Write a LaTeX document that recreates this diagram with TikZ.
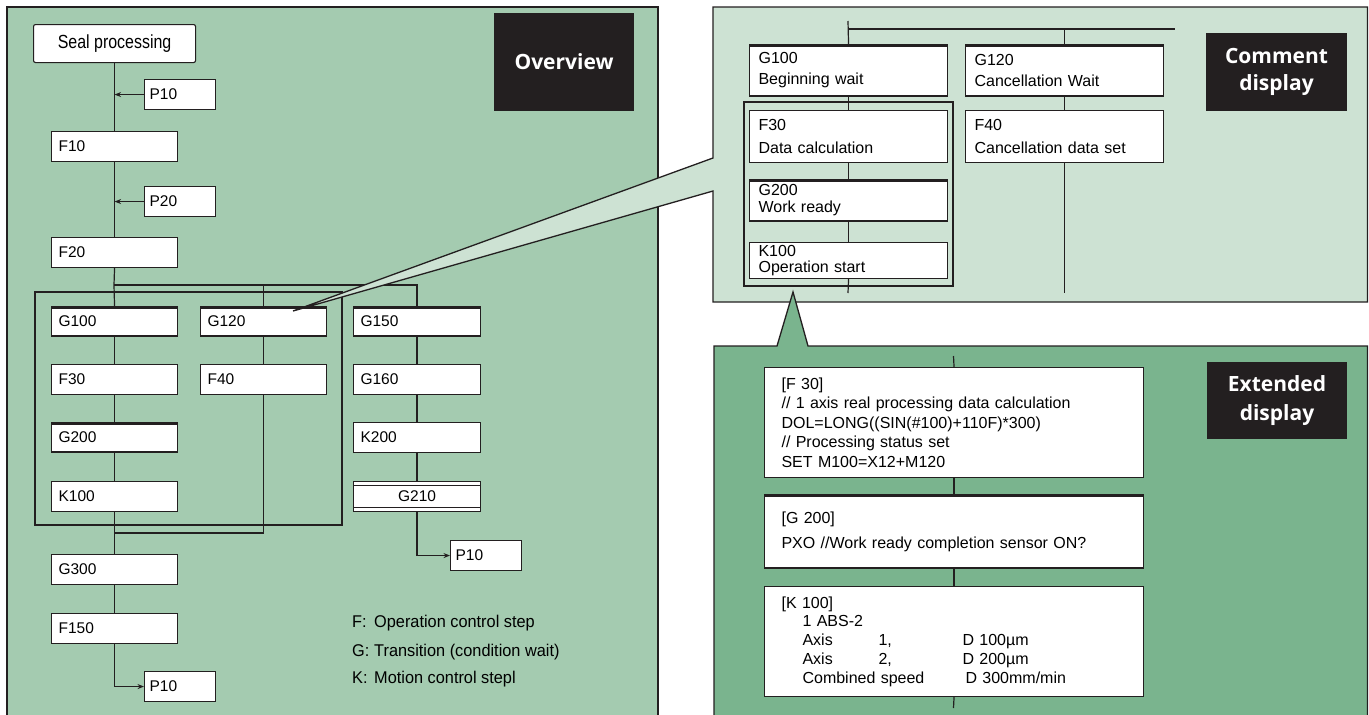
\documentclass[tikz,border=0pt]{standalone}
\usepackage{fontspec}
\setmainfont{Liberation Sans}
\newfontfamily\narrowfont[FakeStretch=0.84]{Liberation Sans}
\newfontfamily\legendfont[FakeStretch=0.96]{Liberation Sans}
\newfontfamily\tagfont{Open Sans}
\usetikzlibrary{arrows.meta}

\definecolor{ink}{RGB}{35,31,32}
\definecolor{overviewgreen}{RGB}{164,203,176}
\definecolor{commentgreen}{RGB}{205,226,211}
\definecolor{extendedgreen}{RGB}{122,180,142}

\tikzset{
  panel/.style={draw=ink, line width=1.3pt},
  link/.style={draw=ink, line width=1.2pt},
  flow/.style={link, -{Stealth[length=6.5pt,width=5pt]}},
  stepbox/.style={draw=ink, fill=white, line width=1.1pt, anchor=north west,
    inner xsep=7pt, inner ysep=0pt, minimum height=30pt, align=left,
    text width=#1, font=\fontsize{15.5}{18}\selectfont},
  pbox/.style={stepbox=61pt, inner xsep=5pt},
  condbar/.style={path picture={
    \draw[ink, line width=4pt]
      (path picture bounding box.north west) -- (path picture bounding box.north east)
      (path picture bounding box.south west) -- (path picture bounding box.south east);}},
  doublebar/.style={path picture={
    \draw[ink, line width=1.1pt]
      ([yshift=-4pt]path picture bounding box.north west) -- ([yshift=-4pt]path picture bounding box.north east)
      ([yshift=4pt]path picture bounding box.south west) -- ([yshift=4pt]path picture bounding box.south east);}},
  notebox/.style={draw=ink, fill=white, line width=1.1pt, anchor=north west,
    inner xsep=9pt, inner ysep=0pt, align=left, text width=180pt},
  codebox/.style={draw=ink, fill=white, line width=1.1pt, anchor=north west,
    inner xsep=17pt, inner ysep=0pt, align=left, text width=345pt},
  tag/.style={fill=ink, text=white, inner sep=0pt, align=center,
    font=\tagfont\bfseries\fontsize{21}{27}\selectfont},
  legend/.style={anchor=base west, inner sep=0pt,
    font=\legendfont\fontsize{17}{20}\selectfont}
}

\begin{document}
\begin{tikzpicture}[x=1pt, y=-1pt]
\useasboundingbox (0,0) rectangle (1369,715);

% ---------------- Overview panel ----------------
\fill[overviewgreen] (7,722) -- (7,7) -- (658,7) -- (658,722) -- cycle;
\draw[panel] (7,722) -- (7,7) -- (658,7) -- (658,722);

\node[tag, minimum width=140pt, minimum height=98pt] (ovtag) at (564,61.5) {Overview};

\node[draw=ink, fill=white, line width=1.1pt, rounded corners=2pt, anchor=north west,
      minimum width=162pt, minimum height=38pt, inner sep=0pt,
      font=\narrowfont\fontsize{19}{22}\selectfont] (seal) at (33,24) {Seal processing};

\node[pbox] (p10a) at (144,79) {P10};
\node[stepbox=112pt] (F10) at (51,131) {F10};
\node[pbox] (p20) at (144,186) {P20};
\node[stepbox=112pt] (F20) at (51,237) {F20};

\node[stepbox=112pt, condbar] (G100) at (51,306) {G100};
\node[stepbox=112pt, condbar] (G120) at (200,306) {G120};
\node[stepbox=113pt, condbar] (G150) at (353,306) {G150};
\node[stepbox=112pt] (F30) at (51,364) {F30};
\node[stepbox=112pt] (F40) at (200,364) {F40};
\node[stepbox=113pt] (G160) at (353,364) {G160};
\node[stepbox=112pt, condbar] (G200) at (51,422) {G200};
\node[stepbox=113pt] (K200) at (353,422) {K200};
\node[stepbox=112pt] (K100) at (51,481) {K100};
\node[stepbox=113pt, align=center, doublebar] (G210) at (353,481) {G210};
\node[stepbox=112pt] (G300) at (51,554) {G300};
\node[stepbox=112pt] (F150) at (51,613) {F150};
\node[pbox] (p10c) at (144,671) {P10};
\node[pbox] (p10b) at (450,540) {P10};

% main sequence
\draw[link] (seal.south) -- (F10.north);
\draw[flow] (p10a.west) -- (p10a.west -| seal.south);
\draw[link] (F10.south) -- (F20.north);
\draw[flow] (p20.west) -- (p20.west -| F10.south);

% branch into three columns
\coordinate (split) at (114,285);
\draw[link] (F20.south) -- (split) -- (G100.north);
\draw[link] (split) -- (split -| G150.north) -- (G150.north);
\draw[link] (split -| G120.north) -- (G120.north);

% selection frame
\draw[link] (35,292) rectangle (342,525);

\draw[link] (G100.south) -- (F30.north);
\draw[link] (F30.south) -- (G200.north);
\draw[link] (G200.south) -- (K100.north);
\draw[link] (K100.south) -- (G300.north);
\draw[link] (G120.south) -- (F40.north);
\coordinate (join) at (114,533);
\draw[link] (F40.south) |- (join);
\draw[link] (G300.south) -- (F150.north);
\draw[flow] (F150.south) |- (p10c.west);

\draw[link] (G150.south) -- (G160.north);
\draw[link] (G160.south) -- (K200.north);
\draw[link] (K200.south) -- (G210.north);
\draw[flow] (G210.south) |- (p10b.west);

% legend
\node[legend] (lf) at (352,627) {\makebox[22pt][l]{F:}Operation control step};
\node[legend] (lg) at (352,656) {\makebox[22pt][l]{G:}Transition (condition wait)};
\node[legend] (lk) at (352,683) {\makebox[22pt][l]{K:}Motion control stepl};

% ---------------- Comment display panel (with call-out wedge) ----------------
\draw[panel, fill=commentgreen] (713,158) -- (713,7) -- (1367.5,7) -- (1367.5,302)
  -- (713,302) -- (713,191) -- (293,311) -- cycle;

\node[tag, minimum width=141pt, minimum height=78pt] (cmtag) at (1276.5,72) {Comment\\display};

\node[notebox, minimum height=52pt, condbar, font=\fontsize{16}{21}\selectfont] (cG100) at (749,44) {G100\\Beginning wait};
\node[notebox, minimum height=52pt, condbar, font=\fontsize{16}{21}\selectfont] (cG120) at (965,44) {G120\\Cancellation Wait};
\node[notebox, minimum height=52pt, font=\fontsize{16}{23}\selectfont] (cF30) at (749,110) {F30\\Data calculation};
\node[notebox, minimum height=52pt, font=\fontsize{16}{23}\selectfont] (cF40) at (965,110) {F40\\Cancellation data set};
\node[notebox, minimum height=42pt, condbar, font=\fontsize{16}{17}\selectfont] (cG200) at (749,179) {G200\\Work ready};
\node[notebox, minimum height=36pt, font=\fontsize{16}{16}\selectfont] (cK100) at (749,242) {K100\\Operation start};

\coordinate (ctop) at (848,21);
\coordinate (cbar) at (1175,29);
\coordinate (cend) at (848,293);
\draw[link] (ctop) -- (cG100.north);
\draw[link] (ctop |- cbar) -- (cbar);
\draw[link] (cG120.north |- cbar) -- (cG120.north);
\draw[link] (cG100.south) -- (cF30.north);
\draw[link] (cF30.south) -- (cG200.north);
\draw[link] (cG200.south) -- (cK100.north);
\draw[link] (cK100.south) -- (cend);
\draw[link] (cG120.south) -- (cF40.north);
\draw[link] (cF40.south) -- (cF40.south |- cend);
\draw[link] (744,102) rectangle (953,286);

% ---------------- Extended display panel (with pointer) ----------------
\fill[extendedgreen] (714,722) -- (714,346) -- (777,346) -- (793,292) -- (808,346)
  -- (1367.5,346) -- (1367.5,722) -- cycle;
\draw[panel] (714,722) -- (714,346) -- (777,346) -- (793,292) -- (808,346)
  -- (1367.5,346) -- (1367.5,722);

\node[tag, minimum width=140pt, minimum height=77pt, font=\tagfont\bfseries\fontsize{21}{29}\selectfont] (extag) at (1277,400.5) {Extended\\display};

\node[codebox, minimum height=110pt, font=\fontsize{16}{19.5}\selectfont] (eF30) at (764,367)
  {[F 30]\\
   // 1 axis real processing data calculation\\
   DOL=LONG((SIN(\#100)+110F)*300)\\
   // Processing status set\\
   SET M100=X12+M120};
\node[codebox, minimum height=74pt, condbar, font=\fontsize{16}{25}\selectfont] (eG200) at (764,494)
  {[G 200]\\
   PXO //Work ready completion sensor ON?};
\node[codebox, minimum height=110pt, font=\fontsize{16}{18.75}\selectfont] (eK100) at (764,586)
  {[K 100]\\
   \hspace*{21pt}1 ABS-2\\
   \hspace*{21pt}\makebox[76pt][l]{Axis}\makebox[84pt][l]{1,}D 100µm\\
   \hspace*{21pt}\makebox[76pt][l]{Axis}\makebox[84pt][l]{2,}D 200µm\\
   \hspace*{21pt}\makebox[163pt][l]{Combined speed}D 300mm/min};

\coordinate (etop) at (953.5,356);
\coordinate (eend) at (953.5,708);
\draw[link] (etop) -- (eF30.north);
\draw[link] (eF30.south) -- (eG200.north);
\draw[link] (eG200.south) -- (eK100.north);
\draw[link] (eK100.south) -- (eend);

\end{tikzpicture}
\end{document}
